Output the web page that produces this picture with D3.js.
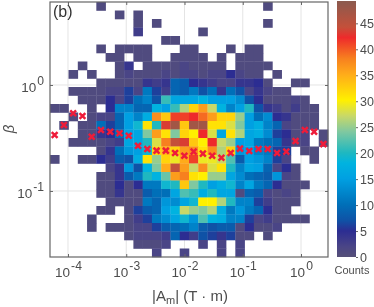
<!DOCTYPE html>
<html lang="en">
<head>
<meta charset="UTF-8">
<title>Counts</title>
<script src="https://cdnjs.cloudflare.com/ajax/libs/d3/7.8.5/d3.min.js"></script>
<style>
  html, body { margin: 0; padding: 0; background: #fff; }
  svg { display: block; filter: blur(0.35px); }
  text { font-family: "Liberation Sans", Arial, sans-serif; fill: #4d4d4d; }
</style>
</head>
<body>
<svg id="chart" width="374" height="307"></svg>
<script>
// histogram counts, top row first (0 = empty cell)
const counts = [
  [0,0,0,0,0,1,0,0,0,0,0,0,0,0,0,0,0,0,0,0,0,0,0,1,0,0,0,0,0,0],
  [0,0,0,0,0,0,0,1,0,1,0,0,0,0,0,0,0,0,0,0,0,0,0,0,0,0,0,0,0,0],
  [0,0,0,0,0,0,0,0,0,1,0,1,0,0,0,0,0,0,0,0,0,0,0,1,0,0,0,0,0,0],
  [0,0,0,0,0,0,0,0,0,3,0,0,0,0,0,0,1,0,0,0,0,0,0,0,0,0,0,0,0,0],
  [0,0,0,0,0,0,0,0,0,0,0,0,1,1,0,0,0,0,0,0,0,0,0,0,0,0,0,0,0,0],
  [0,0,0,0,0,1,0,1,1,1,1,0,0,0,1,1,0,0,0,1,0,1,1,0,0,0,0,0,0,0],
  [0,0,0,0,0,0,1,1,0,1,1,0,0,1,1,1,1,0,1,0,1,1,1,0,0,0,0,0,0,0],
  [0,0,0,1,0,0,0,1,4,0,1,1,1,1,2,1,1,1,1,0,1,1,1,1,0,0,0,0,0,0],
  [0,0,1,0,1,0,0,1,2,1,1,1,2,1,2,2,1,2,2,5,2,1,1,0,1,0,0,0,0,0],
  [0,0,0,0,0,1,1,1,1,1,4,3,4,9,8,5,4,3,2,2,4,4,5,1,0,0,1,1,0,0],
  [0,0,1,1,1,1,2,2,6,2,11,6,3,9,8,11,7,10,4,10,7,2,4,2,1,1,0,0,0,0],
  [0,0,0,1,1,1,5,2,6,10,12,7,21,16,16,16,18,15,15,15,13,7,5,1,1,1,2,1,0,0],
  [1,1,0,0,1,0,5,12,12,9,9,18,15,21,26,32,36,27,18,12,15,20,7,4,3,1,3,1,1,0],
  [0,0,1,0,1,2,2,9,15,12,17,37,33,41,41,42,39,36,32,32,25,15,10,13,5,4,1,1,1,0],
  [0,1,0,1,1,10,6,9,15,19,31,20,43,47,33,47,47,31,31,28,24,15,17,12,9,2,1,1,1,0],
  [0,0,0,1,1,4,5,10,15,16,24,36,31,24,32,30,42,28,16,31,26,16,17,13,6,5,1,2,0,1],
  [0,0,1,1,1,1,2,3,16,16,20,28,38,44,43,33,30,42,27,25,15,16,11,10,9,4,1,2,0,1],
  [0,0,0,0,0,1,4,10,14,15,19,32,34,32,36,37,31,37,26,32,14,15,12,11,6,6,0,1,1,0],
  [1,0,0,1,1,5,3,8,7,17,31,25,32,29,35,41,29,29,27,22,8,15,14,12,6,2,0,0,1,0],
  [0,0,0,0,0,0,2,4,14,7,18,24,35,44,36,27,37,28,31,20,12,16,15,9,2,5,1,0,0,0],
  [0,0,0,0,0,1,1,4,8,11,20,18,23,36,38,31,30,25,25,16,13,10,9,8,14,2,1,0,0,0],
  [0,0,0,0,0,1,1,5,1,5,11,11,19,20,33,24,20,15,17,19,12,16,11,9,5,1,1,1,0,0],
  [0,0,0,0,0,1,1,4,1,1,8,10,10,16,22,21,17,20,16,16,1,9,8,2,1,2,1,0,0,0],
  [0,0,0,0,0,0,1,1,1,1,11,9,14,13,16,19,30,30,26,20,12,12,6,3,1,1,1,0,0,0],
  [0,0,0,0,0,1,1,0,1,6,8,9,15,18,27,25,24,26,17,11,14,11,9,5,1,1,0,0,0,0],
  [0,0,0,0,1,0,0,0,1,3,6,11,13,16,19,14,22,18,17,12,12,6,2,3,1,1,1,1,0,0],
  [0,0,0,0,1,0,1,1,1,2,2,6,8,9,10,12,8,7,8,8,1,5,1,1,2,0,0,0,0,0],
  [0,0,0,0,0,0,0,0,1,2,2,2,3,9,5,3,7,6,4,6,1,1,0,1,0,0,0,0,0,0],
  [0,0,0,0,0,0,0,0,0,1,1,1,2,0,0,0,2,0,2,0,2,0,0,0,0,0,0,0,0,0],
  [0,0,0,0,0,0,0,0,0,0,0,2,0,0,2,0,0,0,2,0,2,0,0,0,0,0,0,0,0,0]
];

// mean beta per column
const betaMean = [0.337,0.419,0.541,0.510,0.325,0.376,0.362,0.350,0.332,0.267,
                  0.249,0.240,0.240,0.228,0.215,0.235,0.225,0.215,0.206,0.228,
                  0.251,0.238,0.249,0.249,0.228,0.235,0.296,0.376,0.362,0.277];

const xTickExps = [-4, -3, -2, -1, 0];
const yTickExps = [0, -1];
const cbTicks = [0, 5, 10, 15, 20, 25, 30, 35, 40, 45];

// colour map stops
const cmapCounts = [0, 2, 5, 7, 10, 15, 18, 20, 24, 27, 30, 35, 38, 42, 44, 49];
const cmapColors = ["#565078","#4a4586","#2c2d92","#0f52a6","#006fb8","#00a0e2","#00b3e0",
                    "#1fb8c0","#80c8a0","#c8d868","#fff000","#ffab1a","#f7801f","#ee2a2b","#c4503a","#8b5a4e"];

const svg = d3.select("#chart");
const box = {l: 50, r: 328, t: 2, b: 257};

const xLogMin = -4.309, xLogMax = 0.4635;
const yLogMax = 0.783, yLogMin = -1.623;

const x = d3.scaleLog().domain([10 ** xLogMin, 10 ** xLogMax]).range([box.l, box.r]);
const y = d3.scaleLog().domain([10 ** yLogMin, 10 ** yLogMax]).range([box.b, box.t]);
const color = d3.scaleLinear().domain(cmapCounts).range(cmapColors);

const nx = counts[0].length, ny = counts.length;
const xEdge = i => 10 ** (xLogMin + i * (xLogMax - xLogMin) / nx);
const yEdge = j => 10 ** (yLogMax - j * (yLogMax - yLogMin) / ny);

// grid under the cells
svg.append("g").selectAll("line").data(xTickExps).enter().append("line")
  .attr("x1", d => x(10 ** d)).attr("x2", d => x(10 ** d))
  .attr("y1", box.t).attr("y2", box.b)
  .attr("stroke", "#e4e4e4").attr("stroke-width", 1);
svg.append("g").selectAll("line").data(yTickExps).enter().append("line")
  .attr("y1", d => y(10 ** d)).attr("y2", d => y(10 ** d))
  .attr("x1", box.l).attr("x2", box.r)
  .attr("stroke", "#e4e4e4").attr("stroke-width", 1);

// cells
const cells = [];
counts.forEach((row, j) => row.forEach((c, i) => { if (c > 0) cells.push({i, j, c}); }));
svg.append("g").selectAll("rect").data(cells).enter().append("rect")
  .attr("x", d => x(xEdge(d.i)))
  .attr("y", d => y(yEdge(d.j)))
  .attr("width", d => x(xEdge(d.i + 1)) - x(xEdge(d.i)) + 0.3)
  .attr("height", d => y(yEdge(d.j + 1)) - y(yEdge(d.j)) + 0.3)
  .attr("fill", d => color(d.c));

// mean markers
svg.append("g").selectAll("path").data(betaMean).enter().append("path")
  .attr("d", d3.symbol().type(d3.symbolX).size(24))
  .attr("transform", (d, i) => `translate(${x(10 ** (xLogMin + (i + 0.5) * (xLogMax - xLogMin) / nx))},${y(d)})`)
  .attr("fill", "none").attr("stroke", "#ee1c3a").attr("stroke-width", 2.5);

// frame
svg.append("rect")
  .attr("x", box.l).attr("y", box.t)
  .attr("width", box.r - box.l).attr("height", box.b - box.t)
  .attr("fill", "none").attr("stroke", "#666").attr("stroke-width", 1.2);

function powerLabel(sel, exp, fs) {
  sel.text("");
  sel.append("tspan").text("10").attr("font-size", fs);
  sel.append("tspan").text(exp).attr("font-size", fs * 0.9).attr("dy", -7).attr("dx", 1);
}

// x axis
const xAxis = d3.axisBottom(x).tickValues(xTickExps.map(d => 10 ** d)).tickSize(-3).tickPadding(13);
const gx = svg.append("g").attr("transform", `translate(0,${box.b})`).call(xAxis);
gx.select(".domain").remove();
gx.selectAll("line").attr("stroke", "#666");
gx.selectAll("text").attr("text-anchor", "middle").each(function (d, i) {
  powerLabel(d3.select(this), xTickExps[i], 13.5);
});

// top ticks
const gxTop = svg.append("g").attr("transform", `translate(0,${box.t})`)
  .call(d3.axisTop(x).tickValues(xTickExps.map(d => 10 ** d)).tickSize(-3).tickFormat(""));
gxTop.select(".domain").remove();
gxTop.selectAll("line").attr("stroke", "#666");

// y axis
const yAxis = d3.axisLeft(y).tickValues(yTickExps.map(d => 10 ** d)).tickSize(-3).tickPadding(6);
const gy = svg.append("g").attr("transform", `translate(${box.l},0)`).call(yAxis);
gy.select(".domain").remove();
gy.selectAll("line").attr("stroke", "#666");
gy.selectAll("text").attr("dy", "0.7em").each(function (d, i) {
  powerLabel(d3.select(this), yTickExps[i], 13.5);
});

const gyRight = svg.append("g").attr("transform", `translate(${box.r},0)`)
  .call(d3.axisRight(y).tickValues(yTickExps.map(d => 10 ** d)).tickSize(-3).tickFormat(""));
gyRight.select(".domain").remove();
gyRight.selectAll("line").attr("stroke", "#666");

// axis labels
const xl = svg.append("text").attr("x", 190).attr("y", 301).attr("text-anchor", "middle").attr("font-size", 15);
xl.append("tspan").text("|A");
xl.append("tspan").text("m").attr("font-size", 11).attr("dy", 3);
xl.append("tspan").text("| (T · m)").attr("dy", -3);

svg.append("text").attr("transform", "translate(14,129) rotate(-90)")
  .attr("text-anchor", "middle").attr("font-size", 15).attr("font-style", "italic")
  .attr("font-family", "'DejaVu Serif', serif").text("β");

svg.append("text").attr("x", 53).attr("y", 17).attr("font-size", 16).style("fill", "#333").text("(b)");

// colour bar
const cbScale = d3.scaleLinear().domain([0, 49.3]).range([257, 1]);
const defs = svg.append("defs");
const grad = defs.append("linearGradient").attr("id", "cb")
  .attr("x1", 0).attr("x2", 0).attr("y1", 1).attr("y2", 0);
grad.selectAll("stop").data(cmapCounts).enter().append("stop")
  .attr("offset", d => d / 49)
  .attr("stop-color", d => color(d));
svg.append("rect").attr("x", 337).attr("y", 1).attr("width", 19).attr("height", 256).attr("fill", "url(#cb)");

const gc = svg.append("g").attr("transform", "translate(356,0)")
  .call(d3.axisRight(cbScale).tickValues(cbTicks).tickSize(2).tickPadding(2));
gc.select(".domain").remove();
gc.selectAll("line").attr("stroke", "#666");
gc.selectAll("text").attr("font-size", 12.5);

svg.append("text").attr("x", 352).attr("y", 274).attr("text-anchor", "middle")
  .attr("font-size", 11).text("Counts");
</script>
</body>
</html>
